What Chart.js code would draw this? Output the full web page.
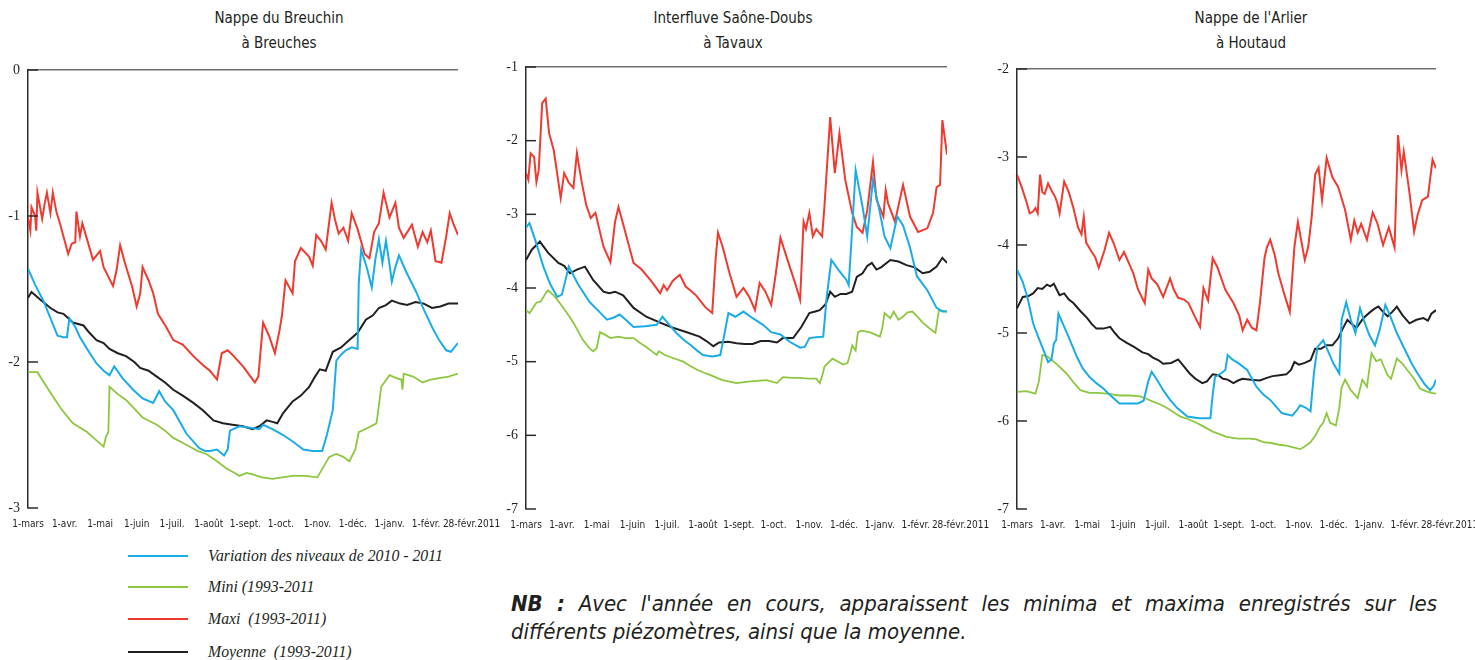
<!DOCTYPE html>
<html lang="fr">
<head>
<meta charset="utf-8">
<script src="https://cdn.jsdelivr.net/npm/chart.js@4.4.1/dist/chart.umd.min.js"></script>
<style>
  html, body { margin: 0; padding: 0; background: #ffffff; }
  body { width: 1475px; height: 660px; position: relative; overflow: hidden; }
  canvas { position: absolute; }
  .ttl { position: absolute; width: 320px; text-align: center; font-family: 'Liberation Sans Narrow', 'DejaVu Sans Condensed', sans-serif; font-size: 15px; line-height: 25px; color: #231f20; }
  .leg-line { position: absolute; left: 128px; width: 60px; height: 0; border-top: 2px solid; }
  .leg-txt { position: absolute; left: 208px; font-family: 'Liberation Serif', 'DejaVu Serif', serif; font-style: italic; font-size: 15.8px; line-height: 18px; color: #231f20; white-space: pre; }
  .nb { position: absolute; left: 511px; width: 926px; font-family: 'Liberation Sans Narrow', 'DejaVu Sans Condensed', sans-serif; font-style: italic; font-size: 22px; line-height: 28px; color: #231f20; white-space: nowrap; }
  .nb.l1 { top: 590px; text-align: justify; text-align-last: justify; white-space: normal; }
  .nb.l2 { top: 618px; text-align: left; }
</style>
</head>
<body>
<div class="ttl" style="left:119px;top:6px">Nappe du Breuchin<br>à Breuches</div>
<div class="ttl" style="left:573px;top:6px">Interfluve Saône-Doubs<br>à Tavaux</div>
<div class="ttl" style="left:1091px;top:6px">Nappe de l'Arlier<br>à Houtaud</div>

<canvas id="c1" width="500" height="480" style="left:0px;top:60px"></canvas>
<canvas id="c2" width="500" height="484" style="left:490px;top:57px"></canvas>
<canvas id="c3" width="495" height="482" style="left:980px;top:59px"></canvas>

<div id="legend"></div>
<div class="nb l1"><b>NB :</b> Avec l'année en cours, apparaissent les minima et maxima enregistrés sur les</div>
<div class="nb l2">différents piézomètres, ainsi que la moyenne.</div>

<script>
// ---------- shared axis data ----------
const monthTickDays = [0, 31, 61, 92, 122, 153, 184, 214, 245, 275, 306, 337, 364];
const monthLabels = ['1-mars', '1-avr.', '1-mai', '1-juin', '1-juil.', '1-août', '1-sept.', '1-oct.', '1-nov.', '1-déc.', '1-janv.', '1-févr.', '28-févr.2011'];
const seriesNames = ['Variation des niveaux de 2010 - 2011', 'Mini (1993-2011', 'Maxi  (1993-2011)', 'Moyenne  (1993-2011)'];

// ---------- Nappe du Breuchin à Breuches ----------
const breuchinTicks = [0, -1, -2, -3];
const breuchinVariationDays = [0,6,13,20,25,30,33,35,40,44,50,58,64,69,73,80,89,97,106,111,116,123,134,145,150,154,160,166,169,171,179,188,196,199,207,216,225,233,241,249,253,258,261,265,269,274,279,280,282,287,291,294,297,300,303,306,308,311,314,320,328,335,342,348,354,358,361,364];
const breuchinVariation = [-1.36,-1.47,-1.58,-1.72,-1.82,-1.83,-1.83,-1.70,-1.76,-1.83,-1.91,-2.01,-2.06,-2.09,-2.03,-2.11,-2.19,-2.25,-2.28,-2.20,-2.27,-2.33,-2.49,-2.59,-2.61,-2.61,-2.60,-2.64,-2.60,-2.47,-2.44,-2.45,-2.46,-2.43,-2.46,-2.50,-2.55,-2.60,-2.61,-2.61,-2.50,-2.33,-1.99,-1.95,-1.92,-1.90,-1.91,-1.46,-1.23,-1.36,-1.49,-1.30,-1.16,-1.32,-1.17,-1.33,-1.45,-1.35,-1.27,-1.38,-1.51,-1.64,-1.76,-1.85,-1.92,-1.93,-1.90,-1.87];
const breuchinMiniDays = [0,8,19,28,38,50,57,64,66,68,69,76,83,90,97,109,116,123,130,137,144,151,160,168,175,179,185,190,198,207,215,224,235,245,250,255,261,267,272,277,280,288,295,297,299,306,312,316,317,318,326,334,341,348,356,364];
const breuchinMini = [-2.07,-2.07,-2.21,-2.32,-2.42,-2.48,-2.53,-2.58,-2.51,-2.48,-2.17,-2.22,-2.26,-2.32,-2.38,-2.43,-2.47,-2.52,-2.55,-2.58,-2.61,-2.63,-2.68,-2.73,-2.76,-2.78,-2.76,-2.77,-2.79,-2.80,-2.79,-2.78,-2.78,-2.79,-2.72,-2.65,-2.63,-2.65,-2.68,-2.60,-2.48,-2.45,-2.42,-2.30,-2.17,-2.09,-2.11,-2.12,-2.19,-2.08,-2.10,-2.14,-2.12,-2.11,-2.10,-2.08];
const breuchinMaxiDays = [0,2,3,6,7,8,12,14,16,19,21,24,27,34,37,40,41,44,46,50,55,58,61,64,72,75,78,82,88,92,95,97,102,106,110,117,123,131,140,148,154,160,164,169,173,182,192,195,199,204,209,213,215,218,224,226,231,238,241,244,248,252,257,260,263,267,271,274,279,285,289,293,297,301,306,311,314,318,325,330,334,338,341,345,350,354,357,360,364];
const breuchinMaxi = [-1.01,-1.10,-0.94,-1.00,-1.10,-0.84,-1.02,-0.92,-0.84,-0.98,-0.84,-0.97,-1.05,-1.26,-1.19,-1.18,-0.97,-1.14,-1.05,-1.16,-1.30,-1.27,-1.24,-1.35,-1.48,-1.37,-1.20,-1.32,-1.48,-1.62,-1.53,-1.35,-1.44,-1.53,-1.67,-1.76,-1.85,-1.88,-1.96,-2.02,-2.06,-2.12,-1.94,-1.92,-1.95,-2.03,-2.14,-2.10,-1.73,-1.82,-1.94,-1.78,-1.68,-1.44,-1.53,-1.31,-1.22,-1.28,-1.34,-1.13,-1.17,-1.23,-0.91,-1.03,-1.12,-1.08,-1.17,-0.98,-1.09,-1.26,-1.29,-1.11,-1.05,-0.84,-1.01,-0.91,-1.08,-1.15,-1.06,-1.21,-1.11,-1.18,-1.10,-1.31,-1.32,-1.14,-0.98,-1.05,-1.13];
const breuchinMoyenneDays = [0,3,10,19,25,30,38,47,52,58,64,69,76,83,90,95,102,109,116,123,131,140,148,157,165,173,182,190,196,202,207,211,216,224,231,238,243,247,252,258,265,272,279,286,292,297,303,308,315,321,328,335,342,349,356,364];
const breuchinMoyenne = [-1.56,-1.52,-1.57,-1.63,-1.66,-1.67,-1.73,-1.75,-1.80,-1.85,-1.87,-1.91,-1.94,-1.96,-2.00,-2.04,-2.06,-2.10,-2.14,-2.19,-2.23,-2.28,-2.33,-2.40,-2.42,-2.43,-2.44,-2.46,-2.44,-2.40,-2.41,-2.42,-2.35,-2.27,-2.23,-2.17,-2.10,-2.05,-2.06,-1.93,-1.90,-1.85,-1.80,-1.71,-1.68,-1.63,-1.61,-1.58,-1.60,-1.61,-1.59,-1.60,-1.63,-1.62,-1.60,-1.60];

// ---------- Interfluve Saône-Doubs à Tavaux ----------
const tavauxTicks = [-1, -2, -3, -4, -5, -6, -7];
const tavauxVariationDays = [0,3,8,15,21,27,31,34,37,45,55,62,70,76,81,87,93,103,113,118,124,130,136,142,148,153,161,168,171,175,181,188,196,205,212,220,228,237,241,245,251,257,260,264,270,277,279,282,285,288,291,295,300,306,310,315,321,326,332,338,347,355,360,364];
const tavauxVariation = [-3.18,-3.12,-3.35,-3.71,-3.95,-4.12,-4.09,-3.90,-3.71,-3.95,-4.19,-4.30,-4.43,-4.40,-4.36,-4.44,-4.53,-4.52,-4.50,-4.39,-4.50,-4.61,-4.70,-4.77,-4.85,-4.91,-4.93,-4.91,-4.67,-4.34,-4.39,-4.32,-4.41,-4.50,-4.60,-4.63,-4.73,-4.81,-4.80,-4.68,-4.67,-4.66,-4.12,-3.62,-3.75,-3.89,-3.96,-3.20,-2.40,-2.65,-2.90,-3.30,-2.53,-2.98,-3.30,-3.46,-3.03,-3.15,-3.45,-3.84,-4.03,-4.27,-4.32,-4.32];
const tavauxMiniDays = [0,3,6,9,13,17,19,24,29,35,41,49,55,58,61,64,69,73,80,86,93,98,104,108,113,115,120,127,136,142,148,154,159,165,170,176,182,192,200,208,217,222,230,237,245,251,254,256,258,265,270,274,278,281,282,285,287,290,297,303,306,308,310,315,318,322,325,330,334,339,343,349,354,357,364];
const tavauxMini = [-4.30,-4.34,-4.27,-4.20,-4.18,-4.07,-4.03,-4.10,-4.20,-4.33,-4.47,-4.70,-4.82,-4.86,-4.82,-4.60,-4.64,-4.68,-4.66,-4.68,-4.68,-4.74,-4.80,-4.85,-4.91,-4.86,-4.91,-4.95,-5.00,-5.06,-5.11,-5.15,-5.18,-5.22,-5.25,-5.27,-5.29,-5.27,-5.26,-5.25,-5.29,-5.21,-5.22,-5.22,-5.23,-5.23,-5.29,-5.20,-5.07,-4.96,-5.00,-5.04,-5.02,-4.85,-4.78,-4.85,-4.60,-4.58,-4.60,-4.64,-4.66,-4.55,-4.34,-4.41,-4.32,-4.43,-4.40,-4.33,-4.32,-4.40,-4.47,-4.55,-4.61,-4.30,-4.32];
const tavauxMaxiDays = [0,2,4,7,9,11,14,17,20,24,27,30,33,37,41,44,48,52,56,60,67,73,77,80,86,93,100,108,116,119,122,127,133,138,142,147,155,161,164,166,170,176,182,188,193,198,202,207,212,216,220,228,233,237,240,242,245,248,251,256,258,263,267,271,276,282,286,291,295,300,303,309,311,313,319,326,332,339,347,352,355,358,360,364];
const tavauxMaxi = [-2.44,-2.53,-2.17,-2.22,-2.56,-2.40,-1.49,-1.43,-1.90,-2.13,-2.45,-2.78,-2.44,-2.57,-2.64,-2.17,-2.55,-2.87,-3.05,-2.98,-3.44,-3.65,-3.10,-2.90,-3.25,-3.66,-3.75,-3.90,-4.07,-3.96,-4.03,-3.90,-3.82,-3.98,-4.03,-4.10,-4.26,-4.34,-3.60,-3.25,-3.44,-3.80,-4.12,-4.00,-4.12,-4.30,-3.93,-4.05,-4.23,-3.80,-3.32,-3.71,-3.95,-4.16,-3.10,-3.20,-2.98,-3.30,-3.20,-3.30,-2.90,-1.68,-2.44,-1.90,-2.53,-2.98,-3.17,-3.25,-2.95,-2.29,-2.80,-3.03,-2.67,-2.85,-3.10,-2.60,-3.03,-3.24,-3.19,-2.98,-2.63,-2.60,-1.72,-2.19];
const tavauxMoyenneDays = [0,5,12,19,28,33,38,44,51,58,67,72,77,84,93,104,116,127,139,150,156,162,167,175,182,189,196,203,210,217,222,231,238,245,250,254,259,263,267,272,277,282,286,291,295,299,303,307,315,322,329,336,343,349,355,360,364];
const tavauxMoyenne = [-3.62,-3.48,-3.37,-3.52,-3.66,-3.70,-3.80,-3.75,-3.71,-3.89,-4.05,-4.07,-4.05,-4.10,-4.27,-4.39,-4.47,-4.54,-4.60,-4.66,-4.72,-4.79,-4.74,-4.73,-4.75,-4.76,-4.76,-4.72,-4.72,-4.74,-4.68,-4.68,-4.53,-4.34,-4.32,-4.30,-4.22,-4.05,-4.12,-4.08,-4.08,-4.05,-3.85,-3.80,-3.70,-3.66,-3.75,-3.72,-3.62,-3.64,-3.69,-3.72,-3.80,-3.78,-3.71,-3.59,-3.66];

// ---------- Nappe de l'Arlier à Houtaud ----------
const houtaudTicks = [-2, -3, -4, -5, -6, -7];
const houtaudVariationDays = [0,5,9,14,18,22,27,30,32,34,36,40,45,52,57,63,69,75,82,89,97,105,110,114,117,122,127,133,139,148,158,168,170,172,177,181,183,187,192,200,208,214,220,230,239,243,246,251,255,258,261,266,270,275,280,282,286,290,294,298,302,306,311,315,320,324,330,337,343,348,354,359,362,364];
const houtaudVariation = [-4.28,-4.42,-4.59,-4.89,-5.03,-5.16,-5.33,-5.30,-5.12,-5.08,-4.78,-4.90,-5.05,-5.27,-5.40,-5.50,-5.57,-5.63,-5.72,-5.80,-5.80,-5.80,-5.77,-5.55,-5.44,-5.54,-5.65,-5.76,-5.85,-5.95,-5.97,-5.97,-5.70,-5.50,-5.46,-5.42,-5.25,-5.30,-5.34,-5.42,-5.61,-5.70,-5.76,-5.91,-5.94,-5.88,-5.82,-5.85,-5.89,-5.45,-5.16,-5.08,-5.20,-5.35,-5.46,-4.85,-4.65,-4.85,-5.00,-4.72,-4.88,-5.02,-5.14,-4.97,-4.68,-4.80,-5.00,-5.19,-5.35,-5.46,-5.58,-5.65,-5.60,-5.53];
const houtaudMiniDays = [0,8,16,19,22,27,35,43,49,55,63,70,78,89,98,107,113,118,124,130,136,142,149,156,163,170,176,182,192,202,208,214,221,228,234,240,246,250,255,259,263,266,269,272,277,280,282,285,290,296,300,304,308,312,316,322,325,330,335,339,345,350,355,360,364];
const houtaudMini = [-5.67,-5.66,-5.69,-5.55,-5.25,-5.27,-5.36,-5.46,-5.56,-5.65,-5.68,-5.68,-5.69,-5.71,-5.71,-5.72,-5.75,-5.78,-5.81,-5.85,-5.90,-5.95,-5.98,-6.02,-6.07,-6.12,-6.15,-6.18,-6.20,-6.20,-6.21,-6.24,-6.25,-6.27,-6.28,-6.30,-6.32,-6.29,-6.24,-6.17,-6.07,-6.02,-5.91,-6.02,-6.05,-5.85,-5.62,-5.53,-5.65,-5.74,-5.53,-5.61,-5.23,-5.32,-5.30,-5.48,-5.52,-5.29,-5.35,-5.42,-5.52,-5.63,-5.66,-5.68,-5.69];
const houtaudMaxiDays = [0,4,8,11,14,16,18,20,22,24,27,30,33,35,37,41,45,49,53,56,58,60,64,68,71,76,80,84,89,93,97,101,105,111,114,117,122,127,133,136,140,145,149,154,159,162,166,170,174,181,188,193,196,200,204,208,211,215,217,220,224,227,232,237,241,244,250,253,256,259,262,265,269,274,279,285,290,293,296,299,304,309,313,318,323,328,331,334,336,341,345,348,352,357,361,364];
const houtaudMaxi = [-3.20,-3.34,-3.50,-3.64,-3.62,-3.58,-3.64,-3.20,-3.40,-3.42,-3.30,-3.38,-3.45,-3.52,-3.64,-3.28,-3.40,-3.58,-3.80,-3.88,-3.68,-3.97,-4.06,-4.14,-4.26,-4.06,-3.86,-3.98,-4.17,-4.08,-4.20,-4.32,-4.50,-4.66,-4.28,-4.38,-4.45,-4.59,-4.38,-4.50,-4.60,-4.62,-4.66,-4.80,-4.93,-4.49,-4.63,-4.15,-4.25,-4.51,-4.66,-4.80,-4.97,-4.85,-4.94,-4.97,-4.66,-4.15,-4.03,-3.94,-4.12,-4.32,-4.55,-4.76,-4.02,-3.74,-4.17,-4.02,-3.68,-3.20,-3.12,-3.49,-3.01,-3.23,-3.34,-3.60,-3.94,-3.72,-3.86,-3.76,-3.94,-3.63,-3.75,-4.00,-3.80,-4.03,-2.75,-3.15,-2.94,-3.41,-3.85,-3.66,-3.49,-3.45,-3.03,-3.13];
const houtaudMoyenneDays = [0,5,10,14,18,22,26,29,32,37,41,45,49,55,61,65,69,75,81,85,89,95,102,109,114,118,123,127,134,140,145,150,155,161,165,170,175,179,183,188,192,196,203,211,217,222,228,234,238,241,245,250,255,259,264,269,274,279,283,287,291,295,301,307,311,314,318,322,326,330,335,341,347,353,357,360,364];
const houtaudMoyenne = [-4.72,-4.59,-4.58,-4.55,-4.49,-4.50,-4.45,-4.47,-4.44,-4.57,-4.55,-4.62,-4.66,-4.75,-4.83,-4.90,-4.95,-4.95,-4.93,-5.00,-5.06,-5.11,-5.16,-5.22,-5.24,-5.28,-5.31,-5.35,-5.34,-5.30,-5.38,-5.46,-5.52,-5.57,-5.55,-5.47,-5.48,-5.52,-5.53,-5.57,-5.54,-5.52,-5.53,-5.54,-5.51,-5.49,-5.48,-5.47,-5.42,-5.33,-5.36,-5.34,-5.31,-5.18,-5.18,-5.14,-5.14,-5.06,-4.95,-4.85,-4.90,-4.94,-4.83,-4.76,-4.72,-4.70,-4.76,-4.81,-4.76,-4.70,-4.80,-4.89,-4.85,-4.83,-4.86,-4.78,-4.74];

// ---------- styling ----------
const COLORS = { variation: '#1aace6', mini: '#8dc63f', maxi: '#ee3a2f', moyenne: '#231f20' };
const NARROW = "'Liberation Sans Narrow', 'DejaVu Sans Condensed', sans-serif";
const SERIF = "'Liberation Serif', 'DejaVu Serif', serif";

function pts(days, vals) { return days.map((d, i) => ({ x: d, y: vals[i] })); }

const innerTicks = {
  id: 'innerTicks',
  afterDatasetsDraw(chart) {
    const { ctx, chartArea: a, scales: { y } } = chart;
    ctx.save();
    ctx.strokeStyle = '#2b2b2b';
    ctx.lineWidth = 1.5;
    y.ticks.forEach(t => {
      const py = y.getPixelForValue(t.value);
      ctx.beginPath();
      ctx.moveTo(a.left, py);
      ctx.lineTo(a.left + 10, py);
      ctx.stroke();
    });
    ctx.restore();
  }
};

function makeChart(id, cfg) {
  const top = Math.max(...cfg.ticks), bottom = Math.min(...cfg.ticks);
  const mk = (label, days, vals, color, w) => ({
    label, data: pts(days, vals), borderColor: color, backgroundColor: color,
    borderWidth: w, pointRadius: 0, tension: 0, fill: false
  });
  return new Chart(document.getElementById(id), {
    type: 'line',
    data: {
      datasets: [
        mk(seriesNames[0], cfg.varDays, cfg.varVals, COLORS.variation, 2),
        mk(seriesNames[3], cfg.moyDays, cfg.moyVals, COLORS.moyenne, 2),
        mk(seriesNames[1], cfg.minDays, cfg.minVals, COLORS.mini, 1.8),
        mk(seriesNames[2], cfg.maxDays, cfg.maxVals, COLORS.maxi, 2)
      ]
    },
    options: {
      responsive: false,
      animation: false,
      events: [],
      layout: { autoPadding: false, padding: { left: 0, top: 10, right: cfg.padRight, bottom: 0 } },
      plugins: { legend: { display: false }, tooltip: { enabled: false }, title: { display: false } },
      scales: {
        x: {
          type: 'linear', min: 0, max: 364,
          afterBuildTicks: s => { s.ticks = monthTickDays.map(v => ({ value: v })); },
          afterFit: s => { s.height = 32; s.paddingLeft = 0; s.paddingRight = 0; },
          grid: { display: false, drawTicks: false },
          border: { display: false },
          ticks: {
            autoSkip: false, maxRotation: 0, minRotation: 0, padding: 10,
            color: '#231f20', font: { family: NARROW, size: 10 },
            callback: (v, i) => i === monthLabels.length - 1 ? '\u2003\u2003\u2003' + monthLabels[i] : monthLabels[i]
          }
        },
        y: {
          min: bottom, max: top,
          afterBuildTicks: s => { s.ticks = cfg.ticks.map(v => ({ value: v })); },
          afterFit: s => { s.width = cfg.yWidth; s.paddingTop = 0; s.paddingBottom = 0; },
          grid: {
            drawTicks: false, lineWidth: 1.5,
            color: c => (c.tick && c.tick.value === top) ? '#6d6e71' : 'rgba(0,0,0,0)'
          },
          border: { display: true, color: '#2b2b2b', width: 1.5 },
          ticks: { padding: 8, color: '#231f20', font: { family: SERIF, size: 14 }, callback: v => String(v) }
        }
      }
    },
    plugins: [innerTicks]
  });
}

makeChart('c1', {
  ticks: breuchinTicks, yWidth: 28, padRight: 42,
  varDays: breuchinVariationDays, varVals: breuchinVariation,
  minDays: breuchinMiniDays, minVals: breuchinMini,
  maxDays: breuchinMaxiDays, maxVals: breuchinMaxi,
  moyDays: breuchinMoyenneDays, moyVals: breuchinMoyenne
});
makeChart('c2', {
  ticks: tavauxTicks, yWidth: 36, padRight: 43,
  varDays: tavauxVariationDays, varVals: tavauxVariation,
  minDays: tavauxMiniDays, minVals: tavauxMini,
  maxDays: tavauxMaxiDays, maxVals: tavauxMaxi,
  moyDays: tavauxMoyenneDays, moyVals: tavauxMoyenne
});
makeChart('c3', {
  ticks: houtaudTicks, yWidth: 37, padRight: 39,
  varDays: houtaudVariationDays, varVals: houtaudVariation,
  minDays: houtaudMiniDays, minVals: houtaudMini,
  maxDays: houtaudMaxiDays, maxVals: houtaudMaxi,
  moyDays: houtaudMoyenneDays, moyVals: houtaudMoyenne
});

// ---------- legend (HTML) ----------
const legendColors = [COLORS.variation, COLORS.mini, COLORS.maxi, COLORS.moyenne];
const legendRows = [556, 587, 619, 652];
const leg = document.getElementById('legend');
seriesNames.forEach((name, i) => {
  const ln = document.createElement('div');
  ln.className = 'leg-line';
  ln.style.top = (legendRows[i] - 1) + 'px';
  ln.style.borderColor = legendColors[i];
  leg.appendChild(ln);
  const tx = document.createElement('div');
  tx.className = 'leg-txt';
  tx.style.top = (legendRows[i] - 9) + 'px';
  tx.textContent = name;
  leg.appendChild(tx);
});
</script>
</body>
</html>
